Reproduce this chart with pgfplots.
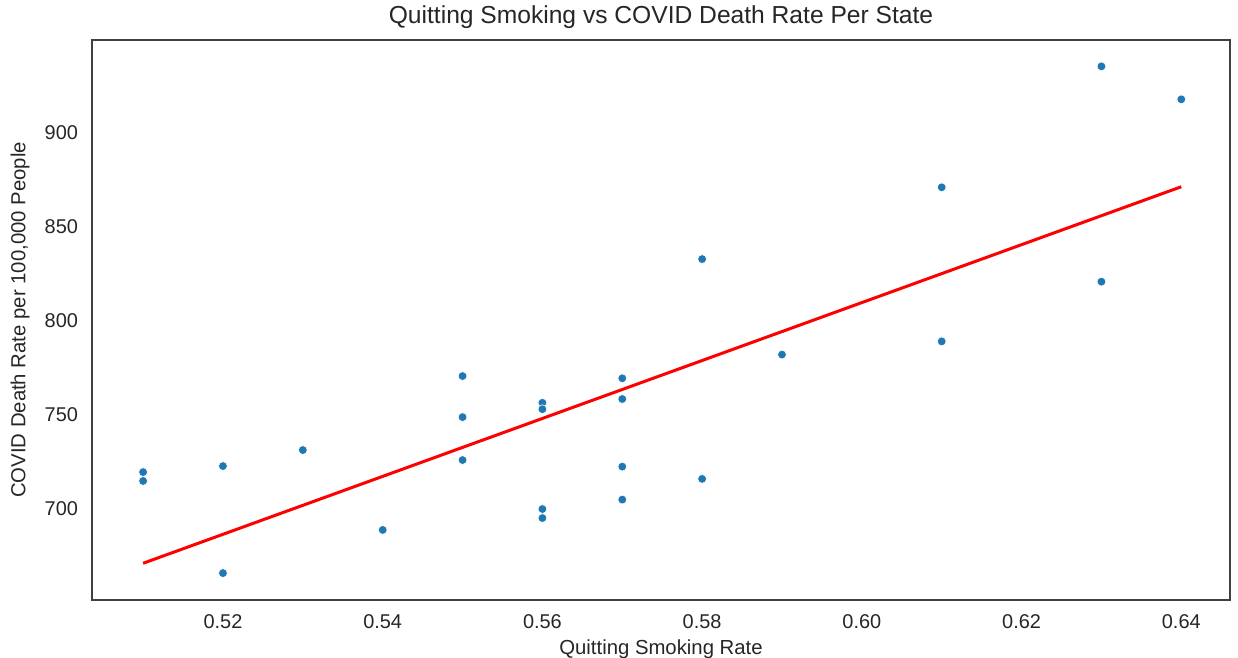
\documentclass[border=0pt]{standalone}
\usepackage{fontspec}
\setmainfont{Liberation Sans}
\usepackage{pgfplots}
\pgfplotsset{compat=1.18}
\definecolor{sblue}{HTML}{1F77B4}
\definecolor{txt}{HTML}{262626}
\begin{document}
\begin{tikzpicture}
\begin{axis}[
  name=ax,
  scale only axis,
  width=1138bp, height=560bp,
  xmin=0.5036, xmax=0.6461,
  ymin=651.7, ymax=949,
  xtick={0.52,0.54,0.56,0.58,0.60,0.62,0.64},
  ytick={700,750,800,850,900},
  major tick length=0pt,
  axis line style={black!75, line width=1.2bp},
  /pgf/number format/assume math mode=true,
  xticklabel style={/pgf/number format/fixed,/pgf/number format/fixed zerofill,/pgf/number format/precision=2},
  yticklabel style={/pgf/number format/fixed},
  scaled x ticks=false,
  tick label style={font=\fontsize{20}{24}\selectfont, text=txt},
  xticklabel style={anchor=base, yshift=-28.5bp},
  yticklabel style={anchor=east, xshift=-10.5bp},
  title={Quitting Smoking vs COVID Death Rate Per State},
  title style={font=\fontsize{24.7}{29}\selectfont, text=txt, at={(axis description cs:0.5,1)}, anchor=base, yshift=11bp},
  xlabel={Quitting Smoking Rate},
  xlabel style={font=\fontsize{20.4}{24}\selectfont, text=txt, at={(axis description cs:0.5,0)}, anchor=base, yshift=-54bp},
  ylabel={COVID Death Rate per 100,000 People},
  every axis y label/.style={font=\fontsize{20.4}{24}\selectfont, text=txt, at={(axis description cs:0,0.5)}, anchor=center, rotate=90, yshift=72bp},
  clip=false,
]
\addplot[only marks, mark=*, mark size=4.4bp, mark options={fill=sblue, draw=white, line width=0.6bp}] coordinates {
(0.51,719.6) (0.51,714.9)
(0.52,722.8) (0.52,666)
(0.53,731.3)
(0.54,688.9)
(0.55,770.6) (0.55,748.8) (0.55,726)
(0.56,756.4) (0.56,753) (0.56,700) (0.56,695.2)
(0.57,769.4) (0.57,758.4) (0.57,722.5) (0.57,705)
(0.58,832.7) (0.58,716)
(0.59,782)
(0.61,870.8) (0.61,789)
(0.63,935) (0.63,820.7)
(0.64,917.5)
};
\addplot[red, line width=3bp] coordinates {(0.51,671.2) (0.64,871.1)};
\end{axis}
\pgfresetboundingbox
\path ([shift={(-92bp,-58bp)}]ax.south west) rectangle ([shift={(8bp,40bp)}]ax.north east);
\end{tikzpicture}
\end{document}
